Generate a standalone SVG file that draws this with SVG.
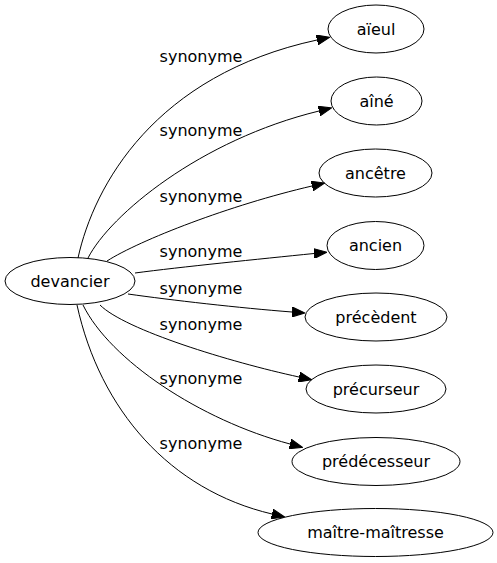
<svg xmlns="http://www.w3.org/2000/svg" width="497" height="563" viewBox="0 0 497 563">
<style>
.node ellipse{fill:none;stroke:#000;stroke-width:1}
.node text{font-family:"DejaVu Sans",sans-serif;font-size:16px;text-anchor:middle;fill:#000}
.edges path{fill:none;stroke:#000;stroke-width:1;marker-end:url(#arr)}
.edges text{font-family:"DejaVu Sans",sans-serif;font-size:16px;text-anchor:middle;fill:#000}
</style>
<defs>
<marker id="arr" viewBox="0 0 13 10" refX="0" refY="5" markerWidth="13" markerHeight="10" markerUnits="userSpaceOnUse" orient="auto">
<path d="M0,0 L13,5 L0,10 z" fill="#000" stroke="#000" stroke-width="1"/>
</marker>
</defs>
<rect width="497" height="563" fill="#fff"/>
<g class="edges" id="edges">
<path d="M78,258 C94,185 155,75 317,40"/>
<text x="201" y="62">synonyme</text>
<path d="M88,258 C110,215 200,140 319,111"/>
<text x="201" y="136">synonyme</text>
<path d="M107,261 C140,240 230,205 312,186"/>
<text x="201" y="202">synonyme</text>
<path d="M135,273 C180,267 260,259 314,253.5"/>
<text x="201" y="257">synonyme</text>
<path d="M128,294 C170,300 240,308 292,312"/>
<text x="201" y="294">synonyme</text>
<path d="M100,305 C125,330 230,362 299,377"/>
<text x="201" y="330">synonyme</text>
<path d="M83,305 C110,360 200,420 290,444"/>
<text x="201" y="384">synonyme</text>
<path d="M77,305 C100,410 170,490 272,514"/>
<text x="201" y="449">synonyme</text>
</g>
<g class="node" id="devancier"><ellipse cx="70" cy="281" rx="65" ry="23.5"/><text x="70" y="286.5">devancier</text></g>
<g class="node" id="aieul"><ellipse cx="376" cy="29" rx="48" ry="24"/><text x="376" y="34.5">aïeul</text></g>
<g class="node" id="aine"><ellipse cx="376.5" cy="101" rx="45.5" ry="24"/><text x="376.5" y="106.5">aîné</text></g>
<g class="node" id="ancetre"><ellipse cx="375.5" cy="173" rx="56.5" ry="24"/><text x="375.5" y="178.5">ancêtre</text></g>
<g class="node" id="ancien"><ellipse cx="375.5" cy="245.5" rx="48.5" ry="24"/><text x="375.5" y="251">ancien</text></g>
<g class="node" id="precedent"><ellipse cx="376" cy="317" rx="71" ry="24"/><text x="376" y="322.5">précèdent</text></g>
<g class="node" id="precurseur"><ellipse cx="376" cy="389" rx="70" ry="24"/><text x="376" y="394.5">précurseur</text></g>
<g class="node" id="predecesseur"><ellipse cx="376" cy="461.5" rx="84" ry="24"/><text x="376" y="467">prédécesseur</text></g>
<g class="node" id="maitre"><ellipse cx="375.5" cy="532.5" rx="117.5" ry="24"/><text x="375.5" y="538">maître-maîtresse</text></g>
</svg>
